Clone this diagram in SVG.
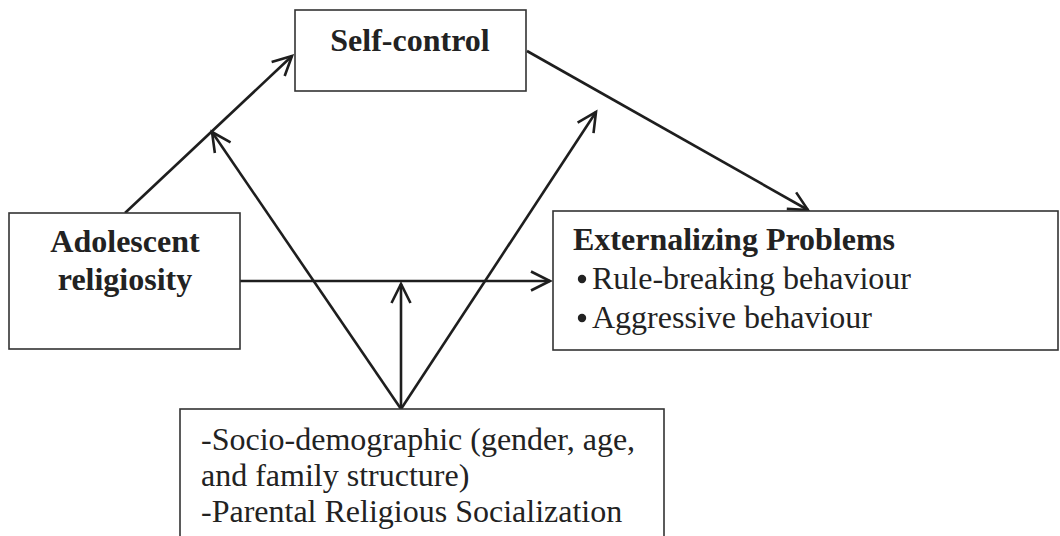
<svg xmlns="http://www.w3.org/2000/svg" width="1060" height="536" viewBox="0 0 1060 536">
  <style>
    .box { fill: #ffffff; stroke: #333333; stroke-width: 1.6; }
    .lbl { font-family: "Liberation Serif", "Times New Roman", serif; font-size: 32px; fill: #222222; }
    .b { font-weight: bold; }
    .conn { fill: none; stroke: #1e1e1e; stroke-width: 2.6; }
    .dot { fill: #222222; }
  </style>
  <defs>
    <marker id="arr" markerUnits="userSpaceOnUse" markerWidth="30" markerHeight="30" viewBox="-24 -15 30 30" refX="0" refY="0" orient="auto">
      <path d="M-19,-9.5 L0,0 L-19,9.5" fill="none" stroke="#1e1e1e" stroke-width="2.6" stroke-linejoin="miter"/>
    </marker>
  </defs>
  <rect width="1060" height="536" fill="#ffffff"/>

  <g id="connectors">
    <line class="conn" x1="125" y1="213" x2="292" y2="56" marker-end="url(#arr)"/>
    <line class="conn" x1="240" y1="281" x2="550" y2="281" marker-end="url(#arr)"/>
    <line class="conn" x1="527" y1="51" x2="808" y2="210" marker-end="url(#arr)"/>
    <line class="conn" x1="401" y1="409" x2="212" y2="132" marker-end="url(#arr)"/>
    <line class="conn" x1="401" y1="409" x2="596" y2="112" marker-end="url(#arr)"/>
    <line class="conn" x1="401" y1="409" x2="401" y2="284" marker-end="url(#arr)"/>
  </g>

  <g id="self-control">
    <rect class="box" x="295" y="10" width="231" height="81"/>
    <text class="lbl b" x="410" y="51" text-anchor="middle">Self-control</text>
  </g>

  <g id="adolescent-religiosity">
    <rect class="box" x="9" y="213" width="231" height="136"/>
    <text class="lbl b" x="125" y="252" text-anchor="middle">Adolescent</text>
    <text class="lbl b" x="125" y="290" text-anchor="middle">religiosity</text>
  </g>

  <g id="externalizing-problems">
    <rect class="box" x="553" y="211" width="505" height="139"/>
    <text class="lbl b" x="573" y="250">Externalizing Problems</text>
    <circle class="dot" cx="582" cy="279" r="4.2"/>
    <text class="lbl" x="592" y="289">Rule-breaking behaviour</text>
    <circle class="dot" cx="582" cy="318" r="4.2"/>
    <text class="lbl" x="592" y="328">Aggressive behaviour</text>
  </g>

  <g id="moderators">
    <rect class="box" x="180" y="409" width="484" height="140"/>
    <text class="lbl" x="201" y="450">-Socio-demographic (gender, age,</text>
    <text class="lbl" x="201" y="486">and family structure)</text>
    <text class="lbl" x="201" y="522">-Parental Religious Socialization</text>
  </g>
</svg>
